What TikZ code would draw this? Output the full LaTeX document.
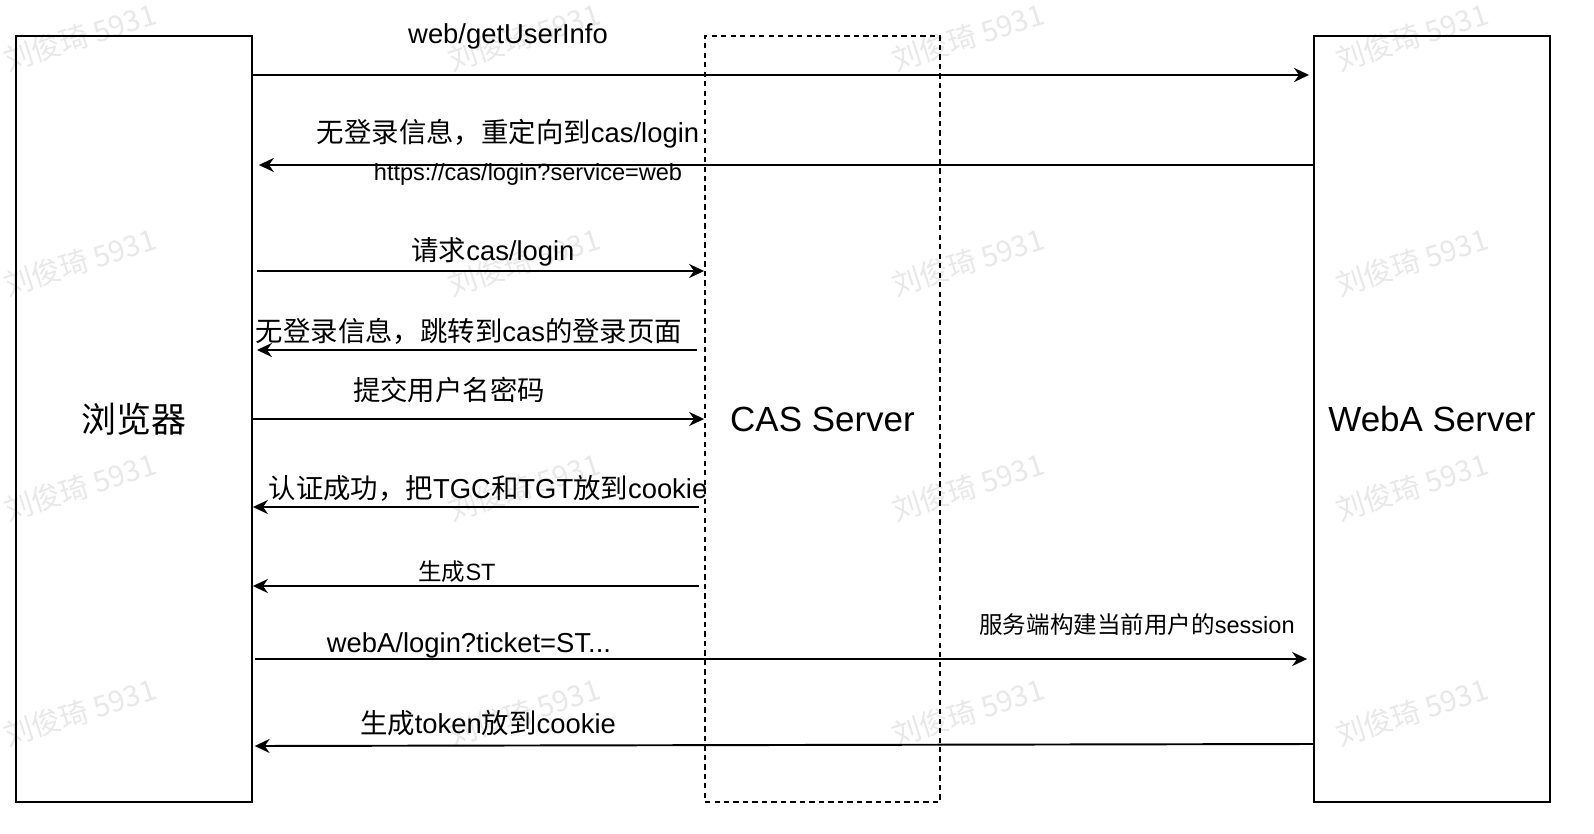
\documentclass[tikz,border=0pt]{standalone}
\usepackage{fontspec}
\setmainfont{Liberation Sans}
\newfontfamily\cjk{Noto Sans CJK SC}
\usetikzlibrary{arrows.meta}

\begin{document}
\begin{tikzpicture}[x=0.02cm, y=-0.02cm,
    box/.style={draw, line width=1.1pt, minimum width=4.72cm, minimum height=15.32cm, inner sep=0, font=\fontsize{19.9}{24}\selectfont},
    casbox/.style={box, dashed, dash pattern=on 3pt off 2.4pt, minimum width=4.7cm},
    msg/.style={line width=1.1pt, -{Stealth[length=8.5pt, width=8pt]}},
    lbl/.style={inner sep=0, font=\fontsize{15.6}{18}\selectfont},
    lblsmall/.style={inner sep=0, font=\fontsize{13.4}{16}\selectfont},
    wmark/.style={inner sep=0, text=black!9, rotate=18, font=\cjk\fontsize{16.5}{18}\selectfont}]

    \useasboundingbox (0,0) rectangle (1594,834);

    % Watermark
    \foreach \wx in {80,524,968,1412}
        \foreach \wy in {37,262,487,712}
            \node[wmark] at (\wx,\wy) {刘俊琦 5931};

    % Lifelines
    \node[box] (browser) at (134,419) {\cjk 浏览器};
    \node[casbox] (cas) at (822.5,419) {CAS Server};
    \node[box] (weba) at (1432,419) {WebA Server};

    % Messages
    \draw[msg, shorten >=2.3pt] (browser.east |- 0,75) -- (weba.west |- 0,75);
    \draw[msg, shorten >=3.4pt] (weba.west |- 0,165) -- (browser.east |- 0,165);
    \draw[msg, shorten <=2.3pt] (browser.east |- 0,271) -- (cas.west |- 0,271);
    \draw[msg, shorten <=4pt, shorten >=2.3pt] (cas.west |- 0,350) -- (browser.east |- 0,350);
    \draw[msg] (browser.east |- 0,419) -- (cas.west |- 0,419);
    \draw[msg, shorten <=2.8pt] (cas.west |- 0,507) -- (browser.east |- 0,507);
    \draw[msg, shorten <=2.8pt] (cas.west |- 0,586) -- (browser.east |- 0,586);
    \draw[msg, shorten <=1pt, shorten >=3.4pt] (browser.east |- 0,659) -- (weba.west |- 0,659);
    \draw[msg, shorten >=1pt] (weba.west |- 0,744) -- (browser.east |- 0,746);

    % Message labels
    \node[lbl] (getinfo) at (508,36) {web/getUserInfo};
    \node[lbl] (redirect) at (508,134) {{\cjk 无登录信息，重定向到}cas/login};
    \node[lblsmall] (service) at (528,174) {https://cas/login?service=web};
    \node[lbl] (request) at (493,252) {{\cjk 请求}cas/login};
    \node[lbl] (loginpage) at (469,331) {{\cjk 无登录信息，跳转到}cas{\cjk 的登录页面}};
    \node[lbl] (submit) at (449,390) {\cjk 提交用户名密码};
    \node[lbl] (authok) at (488,488) {{\cjk 认证成功，把}TGC{\cjk 和}TGT{\cjk 放到}cookie};
    \node[lblsmall] (genst) at (457,572) {{\cjk 生成}ST};
    \node[lbl] (ticket) at (469,645) {webA/login?ticket=ST...};
    \node[lblsmall] (session) at (1137,625) {{\cjk 服务端构建当前用户的}session};
    \node[lbl] (token) at (488,723) {{\cjk 生成}token{\cjk 放到}cookie};

\end{tikzpicture}
\end{document}
